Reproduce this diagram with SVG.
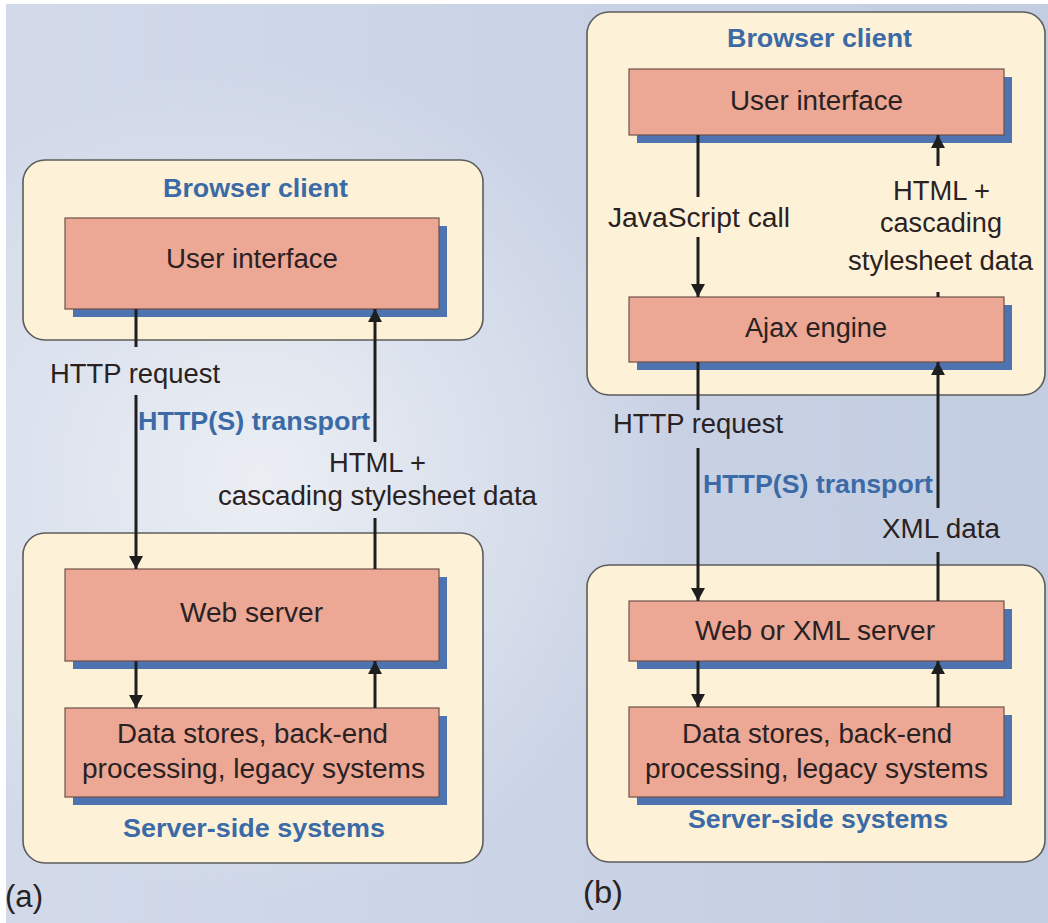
<svg xmlns="http://www.w3.org/2000/svg" width="1048" height="923" viewBox="0 0 1048 923">
<defs>
<linearGradient id="bg" x1="0" y1="0" x2="1" y2="0">
<stop offset="0" stop-color="#d2daea"/>
<stop offset="1" stop-color="#c3cde1"/>
</linearGradient>
<radialGradient id="hl" cx="260" cy="480" r="420" gradientUnits="userSpaceOnUse">
<stop offset="0" stop-color="#eef1f5" stop-opacity="0.9"/>
<stop offset="1" stop-color="#eef1f5" stop-opacity="0"/>
</radialGradient>
<marker id="ah" viewBox="0 0 13 14" refX="13" refY="7" markerWidth="13" markerHeight="14" markerUnits="userSpaceOnUse" orient="auto">
<path d="M0,0 L13,7 L0,14 Z" fill="#1e1e1e"/>
</marker>
<style>
.cont{fill:#fdf2d8;stroke:#5c5c5c;stroke-width:1.6}
.box{fill:#eca795;stroke:#6e5048;stroke-width:1.2}
.sh{fill:#4d74b1}
.t{font-family:"Liberation Sans",Arial,sans-serif;font-size:27px;fill:#2a2222;text-anchor:middle}
.b{font-family:"Liberation Sans",Arial,sans-serif;font-size:26px;font-weight:bold;fill:#3b6aa6;text-anchor:middle}
.c{stroke:#1e1e1e;stroke-width:3;fill:none}
.ca{stroke:#1e1e1e;stroke-width:3;fill:none;marker-end:url(#ah)}
</style>
</defs>
<rect x="0" y="0" width="1048" height="923" fill="#ffffff"/>
<rect x="6" y="4" width="1042" height="919" fill="url(#bg)"/>
<rect x="6" y="4" width="1042" height="919" fill="url(#hl)"/>

<g id="a-browser">
<rect class="cont" x="23" y="160" width="460" height="180" rx="22"/>
<text class="b" x="255.5" y="197" textLength="185" lengthAdjust="spacingAndGlyphs">Browser client</text>
</g>
<g id="a-ui">
<rect class="sh" x="73" y="226" width="374" height="91"/>
<rect class="box" x="65" y="218" width="374" height="91"/>
<text class="t" x="252" y="268" textLength="172" lengthAdjust="spacingAndGlyphs">User interface</text>
</g>
<g id="a-server">
<rect class="cont" x="23" y="533" width="460" height="330" rx="22"/>
<text class="b" x="254" y="837" textLength="262" lengthAdjust="spacingAndGlyphs">Server-side systems</text>
</g>
<g id="a-web">
<rect class="sh" x="73" y="577" width="374" height="92"/>
<rect class="box" x="65" y="569" width="374" height="92"/>
<text class="t" x="251.5" y="622" textLength="143" lengthAdjust="spacingAndGlyphs">Web server</text>
</g>
<g id="a-data">
<rect class="sh" x="73" y="716" width="374" height="89"/>
<rect class="box" x="65" y="708" width="374" height="89"/>
<text class="t" x="252.5" y="743" textLength="271" lengthAdjust="spacingAndGlyphs">Data stores, back-end</text>
<text class="t" x="253.5" y="778" textLength="343" lengthAdjust="spacingAndGlyphs">processing, legacy systems</text>
</g>

<g id="b-browser">
<rect class="cont" x="587" y="12" width="458" height="383" rx="22"/>
<text class="b" x="819.5" y="47" textLength="185" lengthAdjust="spacingAndGlyphs">Browser client</text>
</g>
<g id="b-ui">
<rect class="sh" x="637" y="77" width="375" height="66"/>
<rect class="box" x="629" y="69" width="375" height="66"/>
<text class="t" x="816.5" y="110" textLength="173" lengthAdjust="spacingAndGlyphs">User interface</text>
</g>
<g id="b-ajax">
<rect class="sh" x="637" y="305" width="375" height="65"/>
<rect class="box" x="629" y="297" width="375" height="65"/>
<text class="t" x="816" y="337" textLength="142" lengthAdjust="spacingAndGlyphs">Ajax engine</text>
</g>
<g id="b-server">
<rect class="cont" x="587" y="565" width="458" height="297" rx="22"/>
<text class="b" x="818" y="828" textLength="260" lengthAdjust="spacingAndGlyphs">Server-side systems</text>
</g>
<g id="b-web">
<rect class="sh" x="637" y="609" width="375" height="60"/>
<rect class="box" x="629" y="601" width="375" height="60"/>
<text class="t" x="815" y="640" textLength="240" lengthAdjust="spacingAndGlyphs">Web or XML server</text>
</g>
<g id="b-data">
<rect class="sh" x="637" y="715" width="375" height="90"/>
<rect class="box" x="629" y="707" width="375" height="90"/>
<text class="t" x="817" y="743" textLength="270" lengthAdjust="spacingAndGlyphs">Data stores, back-end</text>
<text class="t" x="816.5" y="778" textLength="343" lengthAdjust="spacingAndGlyphs">processing, legacy systems</text>
</g>

<g id="connectors">
<line class="c" x1="136" y1="309" x2="136" y2="347"/>
<line class="ca" x1="136" y1="395" x2="136" y2="569"/>
<line class="c" x1="375" y1="569" x2="375" y2="518"/>
<line class="ca" x1="375" y1="442" x2="375" y2="309"/>
<line class="ca" x1="136" y1="661" x2="136" y2="708"/>
<line class="ca" x1="375" y1="708" x2="375" y2="661"/>
<line class="c" x1="698" y1="135" x2="698" y2="197"/>
<line class="ca" x1="698" y1="237" x2="698" y2="297"/>
<line class="c" x1="938" y1="297" x2="938" y2="292"/>
<line class="ca" x1="938" y1="166" x2="938" y2="135"/>
<line class="c" x1="698" y1="362" x2="698" y2="410"/>
<line class="ca" x1="698" y1="448" x2="698" y2="601"/>
<line class="c" x1="938" y1="601" x2="938" y2="552"/>
<line class="ca" x1="938" y1="508" x2="938" y2="362"/>
<line class="ca" x1="698" y1="661" x2="698" y2="707"/>
<line class="ca" x1="938" y1="707" x2="938" y2="661"/>
</g>

<g id="labels">
<text class="t" x="135" y="383" textLength="170" lengthAdjust="spacingAndGlyphs">HTTP request</text>
<text class="b" x="254" y="430" textLength="232" lengthAdjust="spacingAndGlyphs">HTTP(S) transport</text>
<text class="t" x="377.5" y="472" textLength="97" lengthAdjust="spacingAndGlyphs">HTML +</text>
<text class="t" x="377.5" y="505" textLength="319" lengthAdjust="spacingAndGlyphs">cascading stylesheet data</text>
<text class="t" x="699" y="227" textLength="182" lengthAdjust="spacingAndGlyphs">JavaScript call</text>
<text class="t" x="941.5" y="200" textLength="97" lengthAdjust="spacingAndGlyphs">HTML +</text>
<text class="t" x="941" y="232" textLength="122" lengthAdjust="spacingAndGlyphs">cascading</text>
<text class="t" x="940.5" y="270" textLength="185" lengthAdjust="spacingAndGlyphs">stylesheet data</text>
<text class="t" x="698" y="433" textLength="170" lengthAdjust="spacingAndGlyphs">HTTP request</text>
<text class="b" x="818" y="493" textLength="230" lengthAdjust="spacingAndGlyphs">HTTP(S) transport</text>
<text class="t" x="941" y="538" textLength="118" lengthAdjust="spacingAndGlyphs">XML data</text>
<text class="t" x="24" y="907" style="font-size:31px" textLength="38" lengthAdjust="spacingAndGlyphs">(a)</text>
<text class="t" x="603" y="903" style="font-size:31px" textLength="40" lengthAdjust="spacingAndGlyphs">(b)</text>
</g>
</svg>
